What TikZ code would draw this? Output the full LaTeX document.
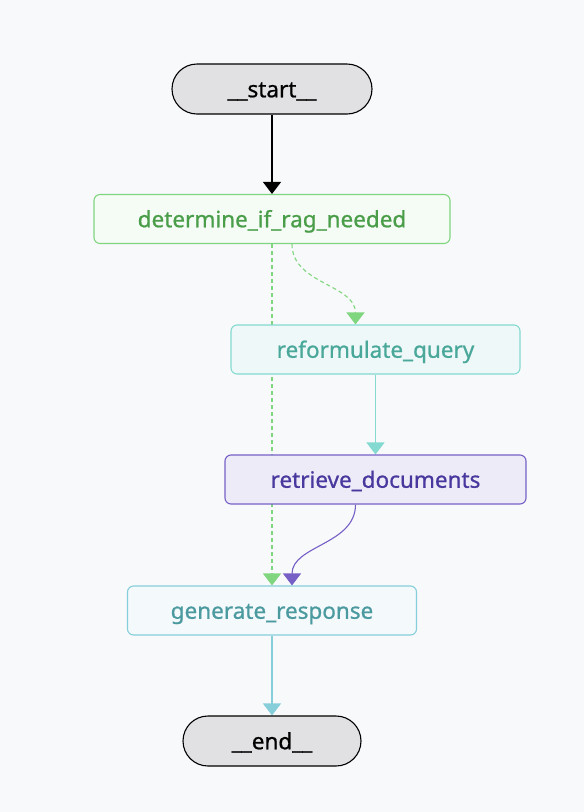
\documentclass[tikz,border=0pt]{standalone}
\usepackage{fontspec}
\setmainfont{Noto Sans}
\newfontfamily\labelfont{Noto Sans}[FakeBold=0.8]
\usetikzlibrary{arrows.meta}

\definecolor{bgcol}{HTML}{F8F9FB}
\definecolor{termfill}{HTML}{E1E1E3}
\definecolor{detline}{HTML}{80D67F}
\definecolor{detfill}{HTML}{F5FBF5}
\definecolor{dettext}{HTML}{4A9E4A}
\definecolor{refline}{HTML}{84DAD0}
\definecolor{reffill}{HTML}{EEF8F8}
\definecolor{reftext}{HTML}{4AA89A}
\definecolor{retline}{HTML}{7660C6}
\definecolor{retfill}{HTML}{ECEBF7}
\definecolor{rettext}{HTML}{4A389E}
\definecolor{genline}{HTML}{86CEDA}
\definecolor{genfill}{HTML}{F4F9FB}
\definecolor{gentext}{HTML}{4A9AA0}

\pgfdeclarelayer{bg}
\pgfdeclarelayer{edgelayer}
\pgfsetlayers{bg,edgelayer,main}

\begin{document}
\begin{tikzpicture}[x=1pt,y=-1pt,
  font=\labelfont\fontsize{22.5}{26}\selectfont,
  terminal/.style={draw=black,fill=termfill,rounded corners=25pt,line width=1.1pt,
    minimum width=#1,minimum height=50pt,inner sep=0pt,text height=16.5pt,text depth=0pt},
  stepbox/.style={rectangle,rounded corners=6pt,line width=1.1pt,
    minimum height=49pt,inner sep=0pt,text height=16.5pt,text depth=0pt},
  edge/.style={line width=1.1pt,-{Triangle[width=18pt,length=12pt]}},
  cond/.style={edge,dash pattern=on 4pt off 3pt}]
  \begin{pgfonlayer}{bg}
    \useasboundingbox[fill=bgcol] (0,0) rectangle (584,812);
  \end{pgfonlayer}

  % Nodes
  \node[terminal=200pt] (start) at (272,89) {\_\_start\_\_};
  \node[stepbox,draw=detline,fill=detfill,text=dettext,minimum width=356pt] (det) at (272,219) {determine\_if\_rag\_needed};
  \node[stepbox,draw=refline,fill=reffill,text=reftext,minimum width=289pt] (ref) at (375.5,349.5) {reformulate\_query};
  \node[stepbox,draw=retline,fill=retfill,text=rettext,minimum width=301pt] (ret) at (375.5,479.5) {retrieve\_documents};
  \node[stepbox,draw=genline,fill=genfill,text=gentext,minimum width=289pt] (gen) at (272,610.5) {generate\_response};
  \node[terminal=178pt] (end) at (272,741) {\_\_end\_\_};

  % Edges
  \begin{pgfonlayer}{edgelayer}
  \draw[edge,black] (start) -- (det);
  \draw[cond,detline] (det.south) -- (gen.north);
  \draw[cond,detline] ([xshift=20pt]det.south) to[out=-90,in=90] ([xshift=-20pt]ref.north);
  \draw[edge,refline] (ref) -- (ret);
  \draw[edge,retline] ([xshift=-20pt]ret.south) to[out=-90,in=90] ([xshift=20pt]gen.north);
  \draw[edge,genline] (gen) -- (end);
  \end{pgfonlayer}
\end{tikzpicture}
\end{document}
